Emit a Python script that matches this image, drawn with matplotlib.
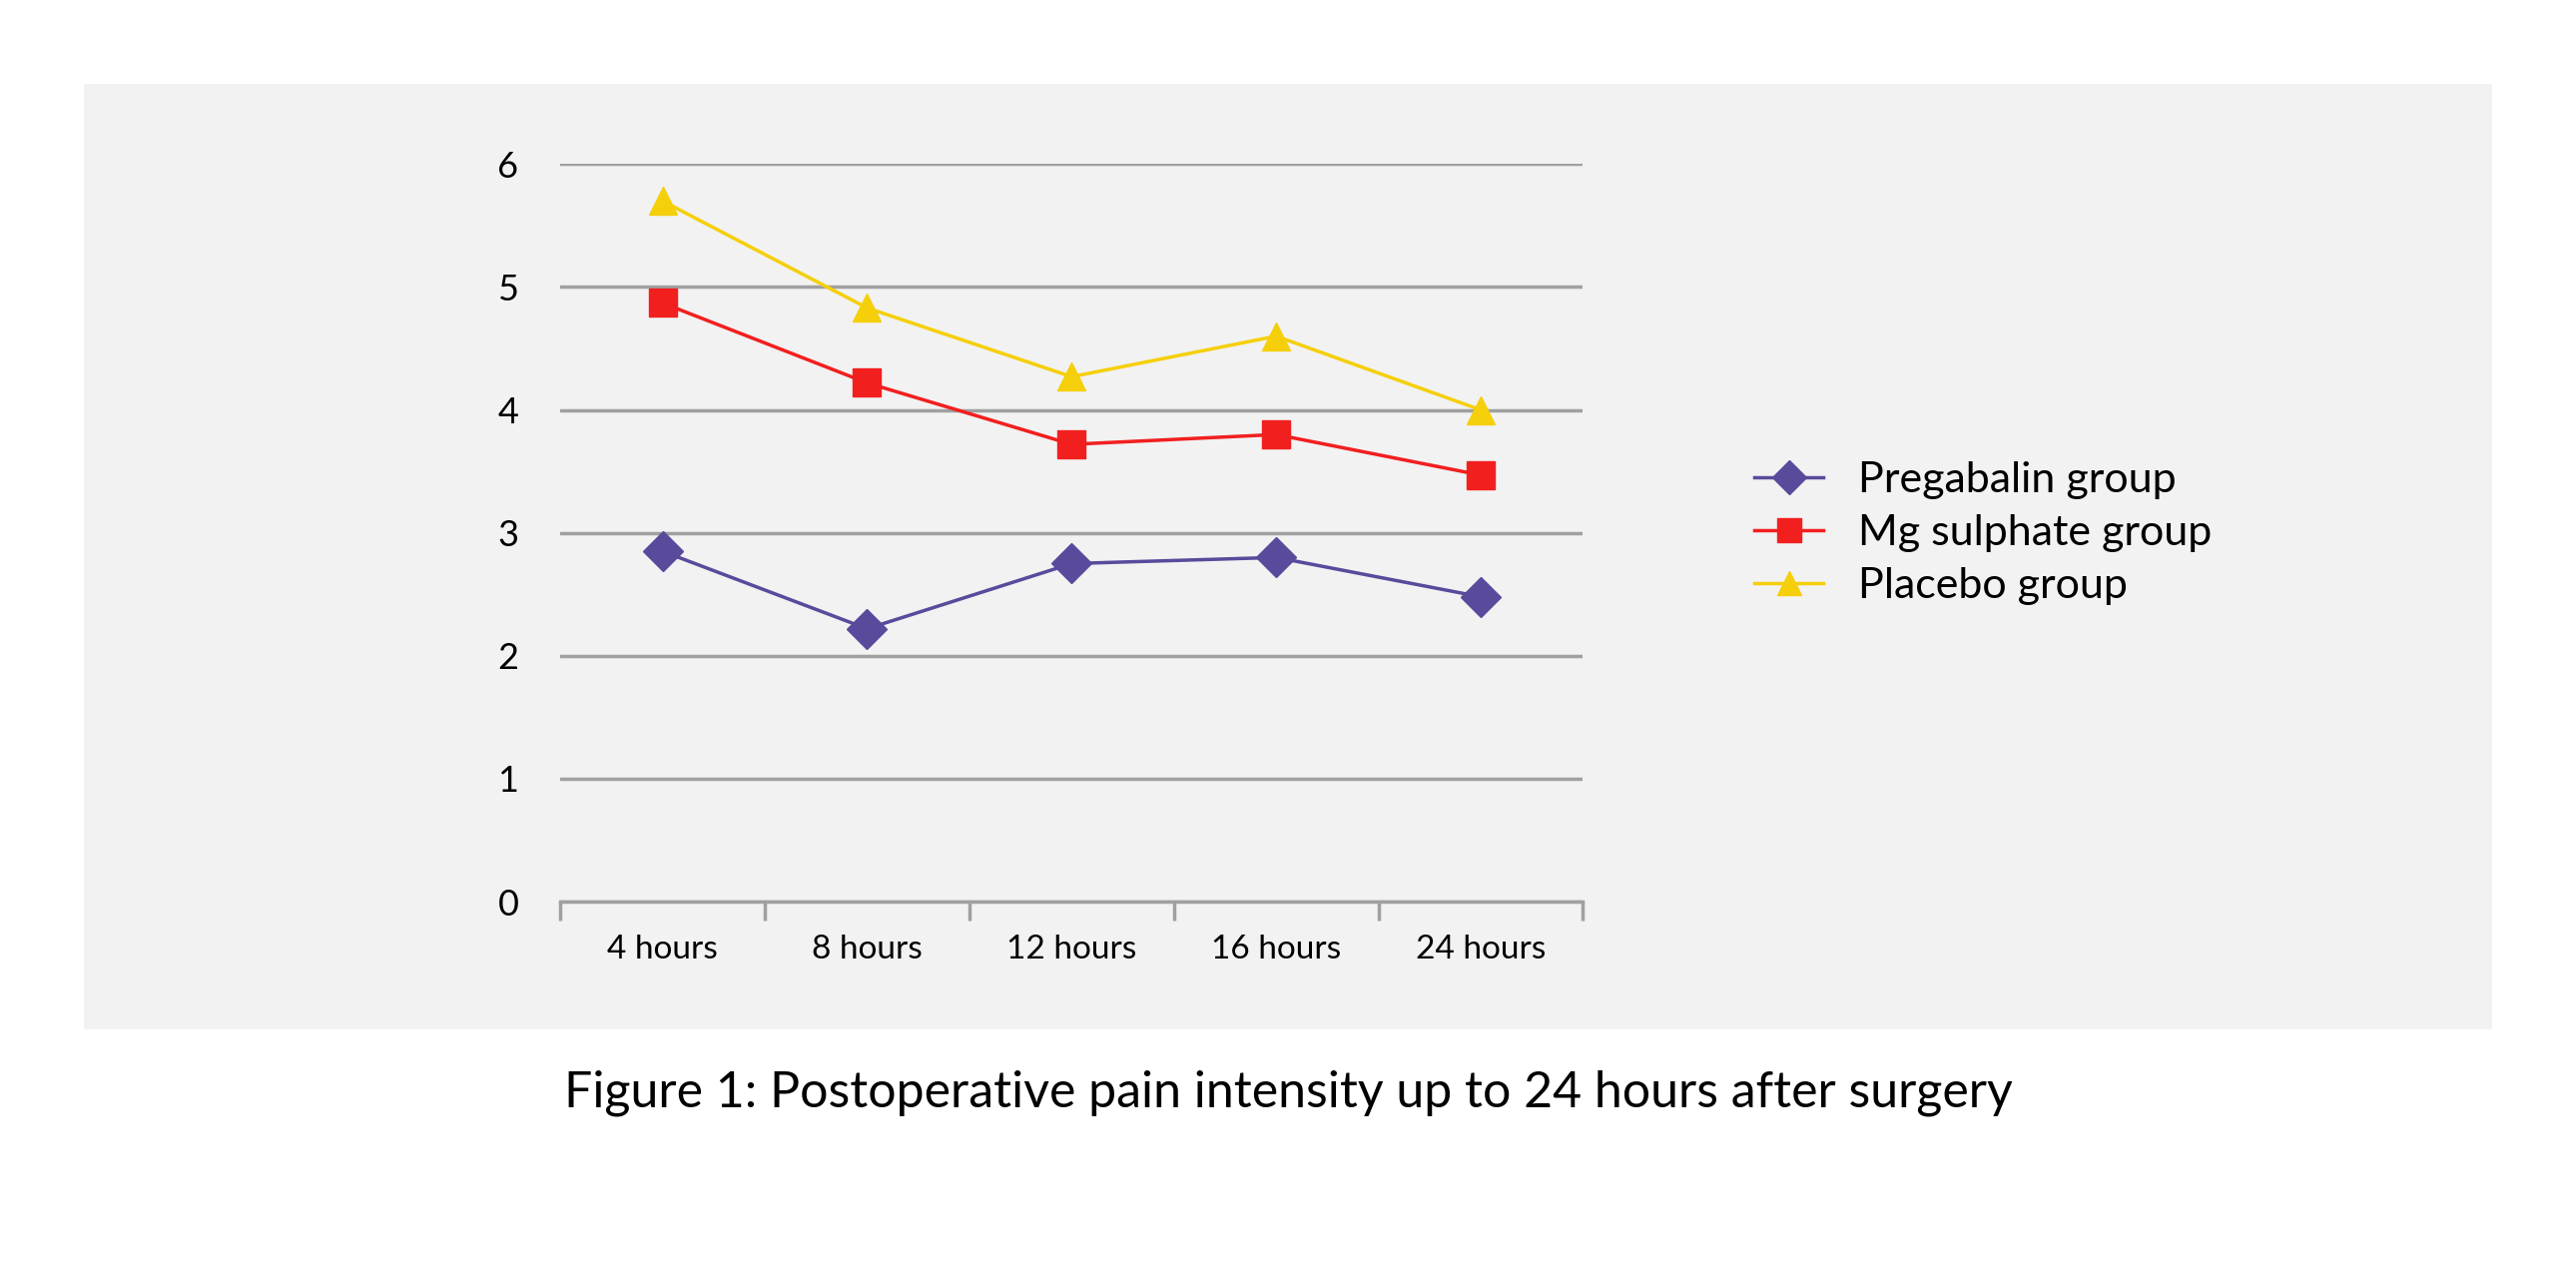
import matplotlib
matplotlib.use("Agg")
import matplotlib.pyplot as plt

categories = ["4 hours", "8 hours", "12 hours", "16 hours", "24 hours"]
pregabalin = [2.85, 2.22, 2.75, 2.80, 2.48]
mg_sulphate = [4.87, 4.22, 3.72, 3.80, 3.47]
placebo = [5.70, 4.83, 4.27, 4.60, 4.00]

plt.rcParams["font.family"] = ["Lato", "DejaVu Sans"]

fig = plt.figure(figsize=(25.8, 12.78), dpi=100)
bg = fig.add_axes([0.0325, 0.193, 0.935, 0.741], zorder=0)
bg.set_facecolor("#f2f2f2")
bg.set_xticks([])
bg.set_yticks([])
for s in bg.spines.values():
    s.set_visible(False)

ax = fig.add_axes([0.2175, 0.2934, 0.397, 0.578], zorder=1)
ax.set_facecolor("none")
x = list(range(len(categories)))
ax.plot(x, pregabalin, color="#5a4a9c", lw=2.5, marker="D", ms=20, label="Pregabalin group", clip_on=False)
ax.plot(x, mg_sulphate, color="#f21f1f", lw=2.5, marker="s", ms=20, label="Mg sulphate group", clip_on=False)
ax.plot(x, placebo, color="#f5cf0a", lw=2.5, marker="^", ms=20, label="Placebo group", clip_on=False)

ax.set_xlim(-0.5, 4.5)
ax.set_ylim(0, 6)
ax.set_yticks(range(7))
ax.yaxis.grid(True, color="#a0a0a0", lw=2.5)
ax.set_axisbelow(True)
for s in ["top", "right", "left"]:
    ax.spines[s].set_visible(False)
ax.spines["bottom"].set_color("#a0a0a0")
ax.spines["bottom"].set_linewidth(2.5)
ax.set_xticks([i + 0.5 for i in range(-1, 5)])
ax.set_xticklabels([])
ax.tick_params(axis="x", length=14, width=2.5, color="#a0a0a0")
ax.set_xticks(x, minor=True)
ax.set_xticklabels(categories, minor=True)
ax.tick_params(axis="x", which="minor", length=0, pad=24, labelsize=24)
ax.tick_params(axis="y", length=0, pad=30, labelsize=26)

ax.legend(loc="center left", bbox_to_anchor=(1.13, 0.5), frameon=False,
          fontsize=31, handlelength=1.6, labelspacing=0.35, markerscale=0.85)

fig.text(0.5, 0.143, "Figure 1: Postoperative pain intensity up to 24 hours after surgery",
         ha="center", va="center", fontsize=36)

fig.savefig("out.png", dpi=100)
